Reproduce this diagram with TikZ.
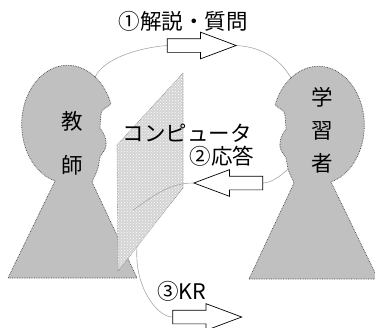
\documentclass[tikz,border=0pt]{standalone}
\usepackage{fontspec}
\setmainfont{Noto Sans CJK JP}
\usetikzlibrary{shapes.arrows, patterns, backgrounds}
\definecolor{headgrey}{HTML}{C0C0C0}
\definecolor{linkgrey}{HTML}{A8A8A8}
\definecolor{panelgrey}{HTML}{D4D4D4}

\begin{document}
\begin{tikzpicture}[
  x=1pt, y=-1pt,
  font=\fontsize{21.5}{25}\selectfont,
  blockarr/.style={single arrow, draw=black, fill=white, line width=0.7pt,
                   minimum height=69pt, inner xsep=0pt, inner ysep=6.5pt,
                   single arrow head extend=6.5pt, single arrow tip angle=41},
  link/.style={draw=linkgrey, line width=0.6pt},
  body/.style={draw=black!75, fill=headgrey, densely dotted, line width=0.7pt},
  person/.pic={
    \path[body] (-13,57) arc[start angle=106, end angle=340, x radius=46, y radius=59]
      .. controls +(-4,4) and +(0,-5) .. (33,-10)
      -- (32,4)
      .. controls +(4,5) and +(1,-6) .. (38,22)
      .. controls +(-1,5) and +(2,-4) .. (32,33)
      -- (30,44)
      .. controls +(-2,6) and +(2,-5) .. (24,58)
      -- (69,154) -- (-60,154) -- cycle;
    \coordinate (-crown) at (27,-47);
    \coordinate (-chin) at (30,44);
  }
]
\clip (0,0) rectangle (375,327);

% ---- Block arrows ----
\node[blockarr] (a1) at (192.5,45.5) {};
\node[blockarr, shape border rotate=180] (a2) at (237.5,183) {};
\node[blockarr] (a3) at (198,317) {};

\coordinate (kr-start) at (137,247);
\coordinate (rsp-end) at (133,210);

\begin{pgfonlayer}{background}
  % links that pass behind the figures
  \draw[link] (kr-start) .. controls +(-3,40) and +(-15,0) .. (a3.tail);

  % ---- Teacher and learner ----
  \pic (tch) at (68,124) {person};
  \pic[xscale=-1] (lrn) at (318,125) {person};

  \draw[link] (tch-crown) .. controls +(10,-20) and +(-25,2) .. (a1.tail);
  \draw[link] (a1.tip) .. controls +(30,2) and +(-8,-14) .. (lrn-crown);

  % ---- Computer screen ----
  \path[preaction={fill=panelgrey}, pattern=crosshatch dots, pattern color=white,
        draw=gray, densely dotted, line width=0.6pt]
    (183,73) -- (117,145) -- (118,271) -- (183,188) -- cycle;

  \draw[link] (lrn-chin) .. controls +(-6,6) and +(8,0) .. (a2.tail);
  \draw[link] (a2.tip) .. controls +(-25,0) and +(18,-12) .. (rsp-end);
\end{pgfonlayer}

% ---- Labels ----
\node[align=center] (tchname) at (72,143) {教\\[19pt]師};
\node[align=center] (lrnname) at (322,130) {学\\[8pt]習\\[8pt]者};
\node (qlbl) at (183,21) {①解説・質問};
\node (comp) at (187,133) {コンピュータ};
\node (rlbl) at (222,156) {②応答};
\node (krlbl) at (182,291) {③KR};

\end{tikzpicture}
\end{document}
